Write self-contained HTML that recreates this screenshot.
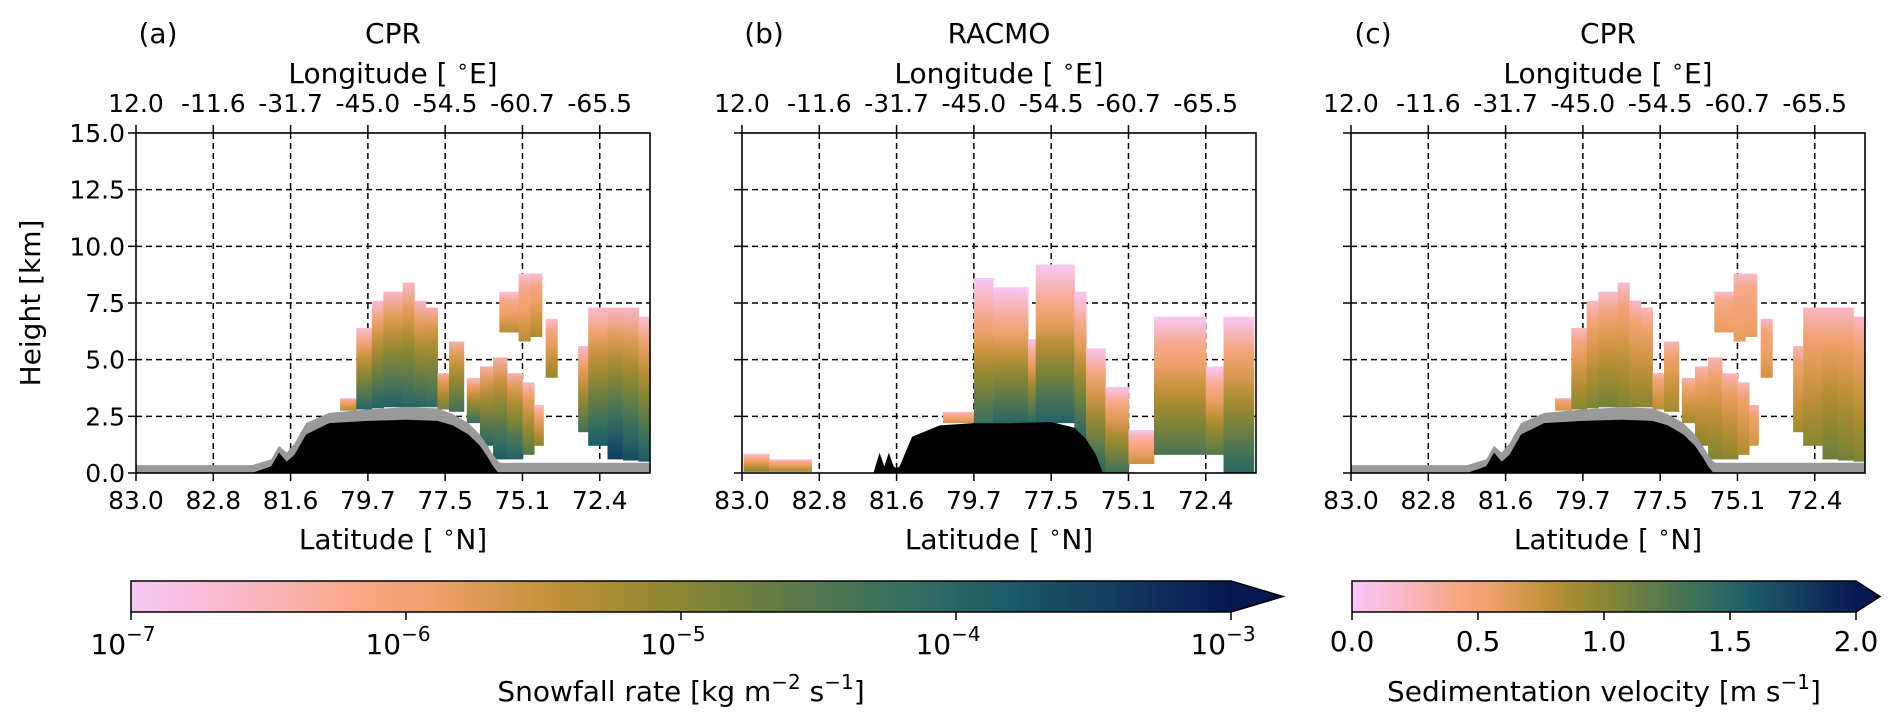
<!DOCTYPE html>
<html><head><meta charset="utf-8"><style>
html,body{margin:0;padding:0;background:#fff;}
svg{display:block;font-family:"DejaVu Sans","Liberation Sans",sans-serif;}
</style></head><body>
<svg id="fig" width="1892" height="721" viewBox="0 0 1892 721" xmlns="http://www.w3.org/2000/svg">
<defs id="defs"></defs>
</svg>
<script>
// ---------- data ----------
const latLabels = ["83.0","82.8","81.6","79.7","77.5","75.1","72.4"];
const lonLabels = ["12.0","-11.6","-31.7","-45.0","-54.5","-60.7","-65.5"];
const heightTicks = [0,2.5,5,7.5,10,12.5,15];
const snowTicks = [-7,-6,-5,-4,-3];
const velTicks = [0,0.5,1.0,1.5,2.0];
// CPR cloud geometry (grid-index units along track, km heights)
const cprU0  = [2.64,2.85,3.05,3.2,3.45,3.6,3.75,3.9,4.05,4.28,4.45,4.62,4.8,5.0,5.15,4.7,4.95,5.1,5.3,5.72,5.85,6.1,6.3,6.5];
const cprU1  = [2.85,3.05,3.2,3.45,3.6,3.75,3.9,4.05,4.24,4.45,4.62,4.8,5.0,5.15,5.27,4.95,5.1,5.25,5.45,5.85,6.1,6.3,6.5,6.65];
const cprBot = [2.75,2.8,2.85,2.9,2.9,2.9,2.9,2.8,2.7,2.2,1.2,0.6,0.6,0.8,1.2,6.2,5.8,6.0,4.2,1.8,1.2,0.6,0.55,0.5];
const cprTop = [3.3,6.4,7.6,8.0,8.4,7.6,7.3,4.4,5.8,4.2,4.7,5.1,4.4,4.0,3.0,8.0,8.8,8.8,6.8,5.6,7.3,7.3,7.3,6.9];
// snowfall rate (log10) at cloud top / base, panel a
const cprSnowTop = [-6.3,-6.3,-6.3,-6.2,-6.2,-6.2,-6.0,-6.0,-6.0,-6.2,-6.0,-6.0,-6.0,-6.2,-6.3,-6.4,-6.4,-6.3,-6.3,-6.3,-6.3,-6.2,-6.2,-6.3];
const cprSnowBot = [-5.3,-4.0,-3.9,-3.9,-4.0,-4.0,-4.1,-4.8,-4.3,-4.2,-4.0,-3.8,-3.9,-4.5,-5.0,-5.4,-5.4,-5.3,-5.1,-4.3,-3.8,-3.4,-3.6,-3.8];
// sedimentation velocity (m/s) at cloud top / base, panel c
const cprVelTop = [0.45,0.4,0.4,0.38,0.38,0.4,0.42,0.45,0.45,0.45,0.45,0.45,0.45,0.45,0.45,0.35,0.35,0.35,0.4,0.45,0.4,0.4,0.4,0.4];
const cprVelBot = [0.7,1.0,1.05,1.1,1.05,1.0,1.0,0.8,0.9,0.9,1.0,1.05,1.0,0.85,0.7,0.6,0.6,0.6,0.7,0.9,1.0,1.15,1.1,1.05];
// RACMO cloud geometry and snowfall (panel b)
const racU0  = [0.02,0.35,2.6,3.0,3.25,3.7,3.8,4.3,4.45,4.7,5.0,5.33,6.0,6.23];
const racU1  = [0.35,0.9,3.0,3.25,3.7,3.8,4.3,4.45,4.7,5.0,5.33,6.0,6.23,6.62];
const racBot = [0.05,0.05,2.2,2.2,2.2,2.2,2.2,1.3,0,0,0.4,0.8,0.8,0];
const racTop = [0.85,0.6,2.7,8.6,8.2,5.9,9.2,8.0,5.5,3.8,1.9,6.9,4.7,6.9];
const racSnowTop = [-6.4,-6.4,-6.4,-6.8,-6.8,-6.5,-6.8,-6.7,-6.5,-6.5,-6.6,-6.6,-6.6,-6.6];
const racSnowBot = [-5.0,-5.2,-5.6,-4.2,-4.0,-4.1,-3.9,-3.9,-4.0,-4.3,-5.5,-4.4,-4.5,-4.0];
// terrain (CPR): black surface and gray clutter heights
const terrU     = [0,1.5,1.75,1.85,1.95,2.05,2.2,2.5,3.0,3.5,3.9,4.1,4.3,4.45,4.55,4.62,4.69,4.72,6.65];
const terrBlack = [0,0,0.3,0.9,0.5,0.8,1.7,2.2,2.3,2.35,2.3,2.1,1.7,1.2,0.7,0.3,0,0,0];
const terrGray  = [0.35,0.35,0.6,1.2,0.9,1.3,2.2,2.65,2.8,2.9,2.85,2.6,2.2,1.7,1.2,0.8,0.5,0.45,0.45];
// terrain (RACMO)
const racTerrU     = [0,1.7,1.78,1.84,1.9,1.96,2.0,2.04,2.2,2.56,3.0,3.5,4.0,4.3,4.45,4.58,4.67,6.65];
const racTerrBlack = [0,0,0.9,0.3,0.9,0.3,0.2,0.3,1.6,2.1,2.2,2.2,2.25,2.0,1.5,0.8,0,0];

// ---------- layout ----------
const NS="http://www.w3.org/2000/svg";
const svg=document.getElementById('fig');
const defs=document.getElementById('defs');
const PW=514, PT=133, PB=473, UMAX=6.65;
const panelLefts=[136,742,1351];
function el(tag,attrs,parent){const e=document.createElementNS(NS,tag);for(const k in attrs)e.setAttribute(k,attrs[k]);(parent||svg).appendChild(e);return e;}
const cstops=[[0,'#f8c8f8'],[0.1,'#f9b8c8'],[0.2,'#f7a888'],[0.28,'#eda068'],[0.37,'#c8923c'],[0.45,'#a08a30'],[0.52,'#808535'],[0.6,'#5e7a48'],[0.7,'#367060'],[0.8,'#1c5a68'],[0.9,'#123a5e'],[1,'#061850']];
function hex(h){return [parseInt(h.substr(1,2),16),parseInt(h.substr(3,2),16),parseInt(h.substr(5,2),16)];}
function cmap(t){t=Math.max(0,Math.min(1,t));for(let i=1;i<cstops.length;i++){if(t<=cstops[i][0]){const a=cstops[i-1],b=cstops[i];const f=(t-a[0])/(b[0]-a[0]);const ca=hex(a[1]),cb=hex(b[1]);return 'rgb('+ca.map((v,j)=>Math.round(v+(cb[j]-v)*f)).join(',')+')';}}return cstops[cstops.length-1][1];}
let gid=0;
function grad(tTop,tBot){const id='g'+(gid++);const g=el('linearGradient',{id:id,x1:0,y1:0,x2:0,y2:1},defs);
 el('stop',{offset:0,'stop-color':cmap(tTop-0.1)},g);
 for(let k=1;k<=6;k++){const f=k/6;el('stop',{offset:(0.04+0.96*f).toFixed(3),'stop-color':cmap(tTop+(tBot-tTop)*f)},g);}
 return id;}
function degText(parent,x,y,size,pre,letter){
 const t=el('text',{x:x,y:y,'font-size':size,'text-anchor':'middle'},parent);
 t.appendChild(document.createTextNode(pre+' '));
 const s=el('tspan',{dy:-10,'font-size':Math.round(size*0.7)},t);s.textContent='∘';
 const r=el('tspan',{dy:10},t);r.textContent=letter+']';
 return t;
}

panelLefts.forEach((L,pi)=>{
 const xs=u=>L+u*PW/UMAX;
 const ys=h=>PB-(h/15)*(PB-PT);
 const g=el('g',{});
 
 
 for(let i=1;i<7;i++){const gl=el('line',{x1:xs(i),x2:xs(i),y1:PT,y2:PB,stroke:'#000','stroke-width':1.5,'stroke-dasharray':'6,4'},g);}
 heightTicks.slice(1,6).forEach(h=>{const gl=el('line',{x1:L,x2:L+PW,y1:ys(h),y2:ys(h),stroke:'#000','stroke-width':1.5,'stroke-dasharray':'6,4'},g);});
 const isRac=pi===1;
 const U0=isRac?racU0:cprU0,U1=isRac?racU1:cprU1,B=isRac?racBot:cprBot,T=isRac?racTop:cprTop;
 const VT=pi===0?cprSnowTop:pi===1?racSnowTop:cprVelTop;
 const VB=pi===0?cprSnowBot:pi===1?racSnowBot:cprVelBot;
 const norm=pi===2?(v=>v/2):(v=>(v+7)/4);
 for(let i=0;i<U0.length;i++){
  const id=grad(norm(VT[i]),norm(VB[i]));
  const r=el('rect',{x:xs(U0[i]),y:ys(T[i]),width:xs(U1[i])-xs(U0[i])+0.5,height:ys(B[i])-ys(T[i]),fill:'url(#'+id+')'},g);
  
  
 }
 if(!isRac){
  let p=terrU.map((u,i)=>xs(u)+','+ys(terrGray[i])).join(' ')+' '+xs(UMAX)+','+PB+' '+L+','+PB;
  const gp=el('polygon',{points:p,fill:'#999'},g);
  p=terrU.map((u,i)=>xs(u)+','+ys(terrBlack[i])).join(' ')+' '+xs(UMAX)+','+PB+' '+L+','+PB;
  const bp=el('polygon',{points:p,fill:'#000'},g);
 } else {
  const p=racTerrU.map((u,i)=>xs(u)+','+ys(racTerrBlack[i])).join(' ')+' '+xs(UMAX)+','+PB+' '+L+','+PB;
  const bp=el('polygon',{points:p,fill:'#000'},g);
 }
 const sp=el('rect',{x:L,y:PT,width:PW,height:PB-PT,fill:'none',stroke:'#000','stroke-width':1.6},g);
 
 latLabels.forEach((lab,i)=>{
  el('line',{x1:xs(i),x2:xs(i),y1:PB,y2:PB+8,stroke:'#000','stroke-width':1.5},g);
  el('line',{x1:xs(i),x2:xs(i),y1:PT,y2:PT-8,stroke:'#000','stroke-width':1.5},g);
  const t=el('text',{x:xs(i),y:PB+36,'font-size':25,'text-anchor':'middle'},g);t.textContent=lab;
  
  const t2=el('text',{x:xs(i),y:PT-21,'font-size':25,'text-anchor':'middle'},g);t2.textContent=lonLabels[i];
  
 });
 heightTicks.forEach(h=>{
  el('line',{x1:L-8,x2:L,y1:ys(h),y2:ys(h),stroke:'#000','stroke-width':1.5},g);
  if(pi===0){const t=el('text',{x:L-11,y:ys(h)+9,'font-size':25,'text-anchor':'end'},g);t.textContent=h.toFixed(1);
   }
 });
 const cx=L+PW/2;
 const xl=degText(g,cx,549,28,'Latitude [','N');
 
 const tl=degText(g,cx,83,28,'Longitude [','E');
 
 const ti=el('text',{x:cx,y:43,'font-size':28,'text-anchor':'middle'},g);ti.textContent=['CPR','RACMO','CPR'][pi];
 
 const lb=el('text',{x:L+22,y:43,'font-size':28,'text-anchor':'middle'},g);lb.textContent=['(a)','(b)','(c)'][pi];
 
});
const yt=el('text',{x:0,y:0,'font-size':28,'text-anchor':'middle',transform:'translate(40,303) rotate(-90)'});
yt.textContent='Height [km]';


function colorbar(x0,x1,tip,name){
 const id='cb'+name;const g=el('linearGradient',{id:id,x1:0,y1:0,x2:1,y2:0},defs);
 for(let k=0;k<=40;k++)el('stop',{offset:k/40,'stop-color':cmap(k/40)},g);
 const grp=el('g',{});
 el('rect',{x:x0,y:581,width:x1-x0,height:31,fill:'url(#'+id+')'},grp);
 el('polygon',{points:x1+',581 '+tip+',596.5 '+x1+',612',fill:cmap(1)},grp);
 el('polygon',{points:x0+',581 '+x1+',581 '+tip+',596.5 '+x1+',612 '+x0+',612',fill:'none',stroke:'#000','stroke-width':1.5},grp);
 return grp;
}
const cb1=colorbar(131,1231,1283,'snowfall');
snowTicks.forEach((v,i)=>{const x=131+(v+7)/4*1100;
 el('line',{x1:x,x2:x,y1:612,y2:620,stroke:'#000','stroke-width':1.5},cb1);
 const t=el('text',{x:x-8,y:654,'font-size':28,'text-anchor':'middle'},cb1);
 
 t.appendChild(document.createTextNode('10'));
 const s=el('tspan',{dy:-13,'font-size':20},t);s.textContent='−'+(-v);});
const cl1=el('text',{x:681,y:701,'font-size':28,'text-anchor':'middle'},cb1);

cl1.innerHTML='Snowfall rate [kg m<tspan dy="-12" font-size="20">−2</tspan><tspan dy="12"> s</tspan><tspan dy="-12" font-size="20">−1</tspan><tspan dy="12">]</tspan>';
const cb2=colorbar(1352,1856,1880,'velocity');
velTicks.forEach(v=>{const x=1352+v/2*504;
 el('line',{x1:x,x2:x,y1:612,y2:620,stroke:'#000','stroke-width':1.5},cb2);
 const t=el('text',{x:x,y:651,'font-size':28,'text-anchor':'middle'},cb2);t.textContent=v.toFixed(1);
 });
const cl2=el('text',{x:1604,y:701,'font-size':28,'text-anchor':'middle'},cb2);

cl2.innerHTML='Sedimentation velocity [m s<tspan dy="-12" font-size="20">−1</tspan><tspan dy="12">]</tspan>';
</script>
</body></html>
